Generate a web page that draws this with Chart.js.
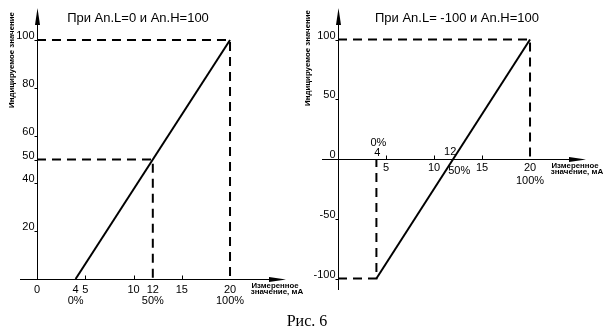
<!DOCTYPE html>
<html>
<head>
<meta charset="utf-8">
<script src="https://cdn.jsdelivr.net/npm/chart.js@4"></script>
<style>
  body { margin: 0; background: #fff; }
  #wrap { position: relative; width: 614px; height: 335px; overflow: hidden; }
  canvas { position: absolute; top: 0; }
  #left { left: 0; }
  #right { left: 300px; }
  #caption {
    position: absolute; left: 0; top: 312px; width: 614px; text-align: center;
    font: 16px "Liberation Serif", "Times New Roman", serif; color: #000;
  }
</style>
</head>
<body>
<div id="wrap">
  <canvas id="left" width="310" height="335"></canvas>
  <canvas id="right" width="314" height="335"></canvas>
  <div id="caption">Рис. 6</div>
</div>
<script>
// measured current, mA, and the displayed value at its ends
const currentMa = [4, 20];
const valueLow0 = [0, 100];
const valueLowNeg = [-100, 100];

// corners of the dashed guides: [current, value]
const guidesLeft = [[20, 100], [12, 50]];
const guidesRight = [[20, 100], [4, -100]];

const xTicksLeft = [0, 4, 5, 10, 12, 15, 20];
const yTicksLeft = [20, 40, 50, 60, 80, 100];
const xTicksRightBelow = [5, 10, 15, 20];
const xTicksRightAbove = [4, 12];
const yTicksRight = [-100, -50, 0, 50, 100];
const xMarks = [5, 10, 15];
const percentAt = [4, 12, 20];
const percentLabels = ['0%', '50%', '100%'];

const titleLeft = 'При An.L=0 и An.H=100';
const titleRight = 'При An.L= -100 и An.H=100';
const yTitle = 'Индицируемое значение';
const xTitle = ['Измеренное', 'значение, мА'];

const NUM_FONT = '11px "Liberation Sans", Arial, sans-serif';
const SMALL_FONT = 'bold 8px "Liberation Sans", Arial, sans-serif';

// draws the axes, arrows, tick marks and all the text
const axesPlugin = {
  id: 'axes',
  afterDraw(chart, args, o) {
    const { ctx, chartArea: a, scales: { x, y } } = chart;
    const px = v => x.getPixelForValue(v);
    const py = v => y.getPixelForValue(v);
    const ax = Math.round(px(0)) + 0.5;
    const ay = Math.round(py(0)) + 0.5;
    ctx.save();
    ctx.strokeStyle = '#000';
    ctx.fillStyle = '#000';
    ctx.lineWidth = 1;

    ctx.beginPath();
    ctx.moveTo(a.left, ay); ctx.lineTo(a.right - 4, ay);
    ctx.moveTo(ax, a.bottom); ctx.lineTo(ax, a.top + 4);
    // tick marks
    o.xMarks.forEach(v => {
      const p = Math.round(px(v)) + 0.5;
      ctx.moveTo(p, ay); ctx.lineTo(p, ay - 4);
    });
    o.yMarks.forEach(v => {
      const p = Math.round(py(v)) + 0.5;
      ctx.moveTo(ax, p); ctx.lineTo(ax - 3, p);
    });
    ctx.stroke();

    // arrowheads
    ctx.beginPath();
    ctx.moveTo(a.right, ay);
    ctx.lineTo(a.right - 17, ay - 2.5);
    ctx.lineTo(a.right - 17, ay + 2.5);
    ctx.closePath();
    ctx.fill();
    ctx.beginPath();
    ctx.moveTo(ax, a.top);
    ctx.lineTo(ax - 2.5, a.top + 17);
    ctx.lineTo(ax + 2.5, a.top + 17);
    ctx.closePath();
    ctx.fill();

    // tick labels
    ctx.font = NUM_FONT;
    ctx.textBaseline = 'alphabetic';
    ctx.textAlign = 'center';
    o.xLabels.forEach(l => ctx.fillText(l.text, px(l.v) + (l.dx || 0), ay + l.dy));
    ctx.textAlign = 'right';
    o.yLabels.forEach(l => ctx.fillText(l.text, ax - 3, py(l.v) - 1));

    // chart title
    ctx.font = '13px "Liberation Sans", Arial, sans-serif';
    ctx.textAlign = 'center';
    ctx.fillText(o.title, o.titleX, 22);

    // axis titles
    ctx.font = SMALL_FONT;
    ctx.fillText(xTitle[0], o.xTitleX - 2, ay + 8, 47);
    ctx.fillText(xTitle[1], o.xTitleX, ay + 14, 59);
    ctx.translate(o.yTitleX, o.yTitleY);
    ctx.rotate(-Math.PI / 2);
    ctx.textBaseline = 'middle';
    ctx.fillText(yTitle, 0, 0, 96);
    ctx.restore();
  }
};

function guideSets(corners) {
  return corners.map(([c, v]) => ({
    data: [{ x: 0, y: v }, { x: c, y: v }, { x: c, y: 0 }],
    borderColor: '#000',
    borderWidth: 2,
    borderDash: [9, 6],
    pointRadius: 0,
    showLine: true,
    clip: false
  }));
}

function makeChart(id, values, guides, range, padding, axes) {
  return new Chart(document.getElementById(id), {
    type: 'scatter',
    data: {
      datasets: [
        ...guideSets(guides),
        {
          data: currentMa.map((c, i) => ({ x: c, y: values[i] })),
          borderColor: '#000',
          borderWidth: 2,
          pointRadius: 0,
          showLine: true,
          clip: false
        }
      ]
    },
    options: {
      responsive: false,
      animation: false,
      devicePixelRatio: 1,
      layout: { padding },
      plugins: { legend: { display: false }, tooltip: { enabled: false }, axes },
      scales: {
        x: { type: 'linear', display: false, min: range[0], max: range[1] },
        y: { type: 'linear', display: false, min: range[2], max: range[3] }
      }
    },
    plugins: [axesPlugin]
  });
}

// An.L = 0
makeChart('left', valueLow0, guidesLeft,
  [-1.76, 25.8, 0, 113.4],
  { left: 20, right: 24, top: 8, bottom: 56 },
  {
    title: titleLeft, titleX: 138,
    xTitleX: 277, yTitleX: 12, yTitleY: 60,
    xMarks: xMarks,
    yMarks: yTicksLeft,
    xLabels: [
      ...xTicksLeft.map(v => ({ v, text: String(v), dy: 13 })),
      ...percentAt.map((v, i) => ({ v, text: percentLabels[i], dy: 24 }))
    ],
    yLabels: yTicksLeft.map(v => ({ v, text: String(v) }))
  });

// An.L = -100
makeChart('right', valueLowNeg, guidesRight,
  [-1.667, 25.83, -109.6, 126.4],
  { left: 22, right: 28, top: 8, bottom: 45 },
  {
    title: titleRight, titleX: 157,
    xTitleX: 277, yTitleX: 8, yTitleY: 58,
    xMarks: xMarks,
    yMarks: [-100, -50, 50, 100],
    xLabels: [
      ...xTicksRightBelow.map(v => ({ v, text: String(v), dy: 11 })),
      { v: xTicksRightAbove[0], text: String(xTicksRightAbove[0]), dx: 1, dy: -4 },
      { v: xTicksRightAbove[1], text: String(xTicksRightAbove[1]), dx: -3, dy: -5 },
      { v: percentAt[0], text: percentLabels[0], dx: 2, dy: -14 },
      { v: percentAt[1], text: percentLabels[1], dx: 6, dy: 14 },
      { v: percentAt[2], text: percentLabels[2], dy: 24 }
    ],
    yLabels: yTicksRight.map(v => ({ v, text: String(v) }))
  });
</script>
</body>
</html>
